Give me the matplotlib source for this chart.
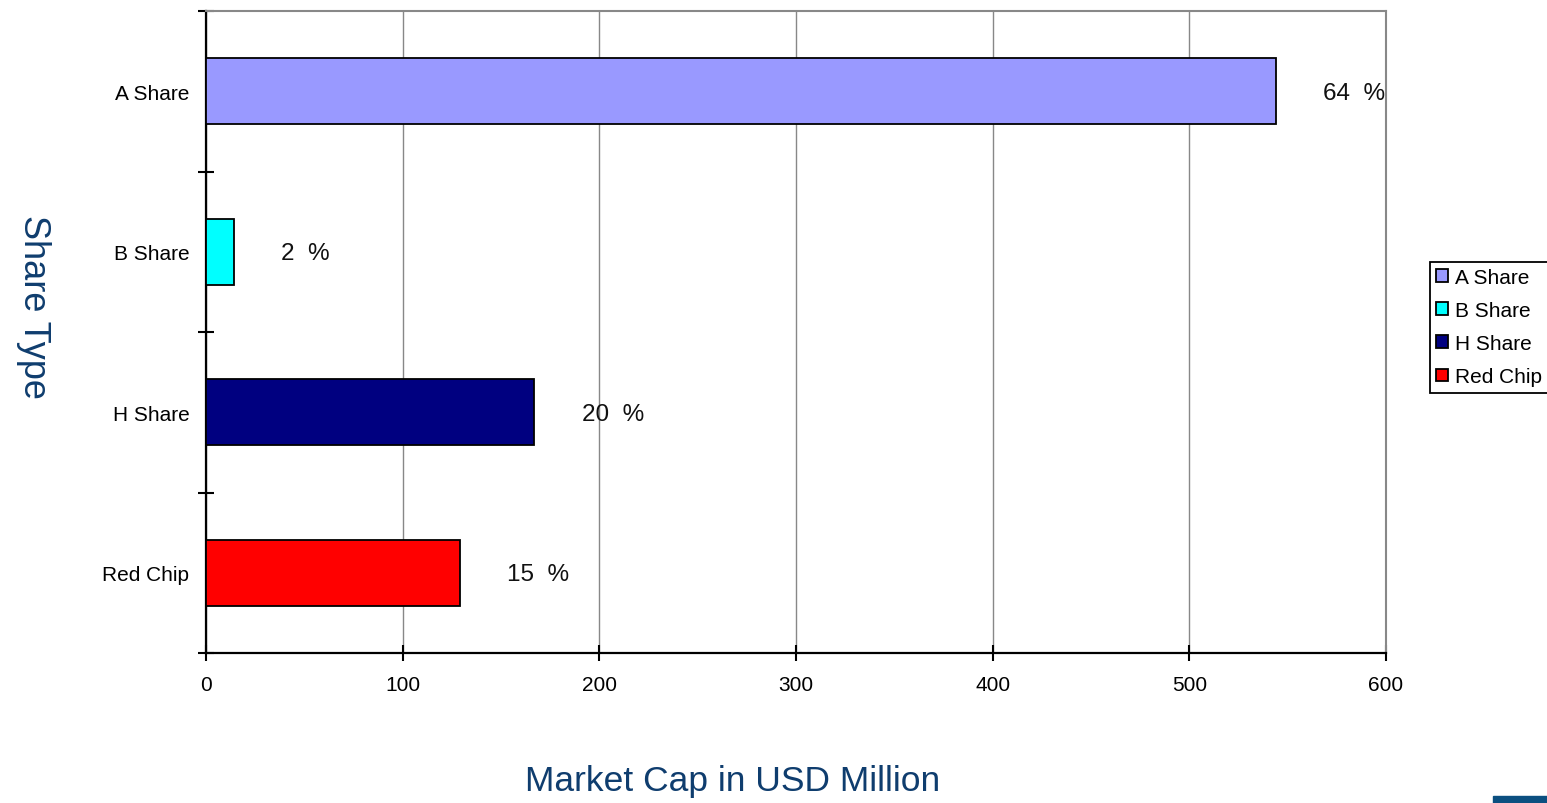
import matplotlib
matplotlib.use("Agg")
from matplotlib import pyplot as plt
from matplotlib.patches import Patch, Rectangle
import numpy as np

plt.rcParams['font.family'] = ['Liberation Sans', 'DejaVu Sans']

# Data
share_types = ["A Share", "B Share", "H Share", "Red Chip"]
market_cap = [544, 14, 167, 129]
pct_labels = ["64  %", "2  %", "20  %", "15  %"]
bar_colors = ["#9999ff", "#00ffff", "#000080", "#ff0000"]

title_blue = "#0f3d6e"

fig = plt.figure(figsize=(15.47, 8.04), dpi=100)
ax = fig.add_axes([206 / 1547, 1 - 654 / 804, 1180 / 1547, 642 / 804])

ypos = np.arange(len(share_types))[::-1]
bars = ax.barh(ypos, market_cap, height=0.41, color=bar_colors,
               edgecolor="black", linewidth=1.3, zorder=3)

for y, v, txt in zip(ypos, market_cap, pct_labels):
    ax.text(v + 24, y - 0.01, txt, ha="left", va="center", fontsize=17.5, color="#111111")

ax.set_xlim(0, 600)
ax.set_ylim(-0.5, len(share_types) - 0.5)
ax.set_xticks(np.arange(0, 601, 100))
ax.set_yticks(ypos)
ax.set_yticklabels(share_types)
ax.set_yticks(np.arange(-0.5, len(share_types), 1), minor=True)

ax.tick_params(axis="y", which="major", length=0, pad=12, labelsize=15)
ax.tick_params(axis="y", which="minor", length=12, width=1.5, direction="inout")
ax.tick_params(axis="x", which="major", length=12, width=1.5, direction="inout",
               pad=10, labelsize=15)

ax.grid(axis="x", color="#888888", linewidth=1, zorder=0)
ax.set_axisbelow(True)
for side in ["left", "bottom"]:
    ax.spines[side].set_color("black")
    ax.spines[side].set_linewidth(1.6)
for side in ["top", "right"]:
    ax.spines[side].set_color("#888888")
    ax.spines[side].set_linewidth(1.5)

fig.text(733 / 1547, 1 - 782 / 804, "Market Cap in USD Million", fontsize=25.5,
         color=title_blue, ha="center", va="center")
fig.text(33 / 1547, 1 - 307 / 804, "Share Type", rotation=-90, fontsize=26,
         color=title_blue, ha="center", va="center")

handles = [Patch(facecolor=c, edgecolor="black", linewidth=1.3) for c in bar_colors]
leg = fig.legend(handles, share_types, loc="center left",
                 bbox_to_anchor=(1430 / 1547, 1 - 328 / 804),
                 fontsize=15, frameon=True, fancybox=False, framealpha=1,
                 handlelength=0.55, handleheight=0.55, handletextpad=0.35,
                 labelspacing=0.68, borderpad=0.3, borderaxespad=0)
leg.get_frame().set_edgecolor("black")
leg.get_frame().set_linewidth(1.3)

# cut-off logo corner
fig.patches.append(Rectangle((1493 / 1547, 0), 54 / 1547, 7 / 804,
                             transform=fig.transFigure, color="#0b4f80"))

fig.savefig("out.png", dpi=100)
